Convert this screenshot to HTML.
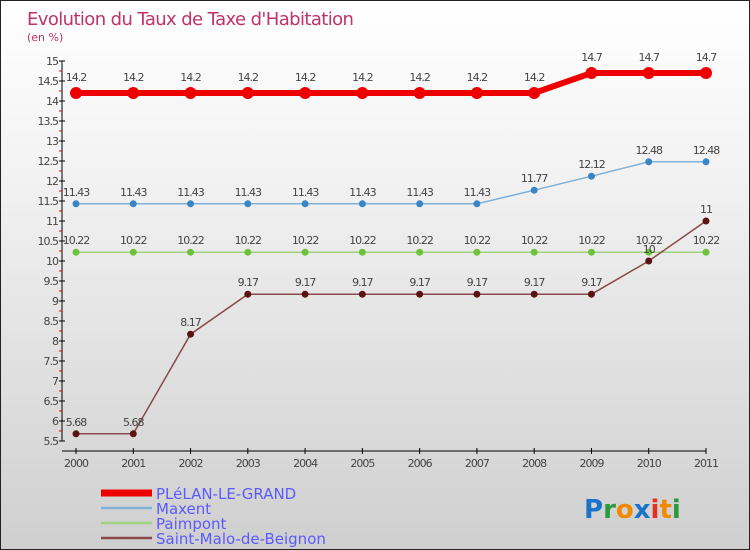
<!DOCTYPE html>
<html><head><meta charset="utf-8"><style>
body{margin:0;}
#c{width:750px;height:550px;position:relative;box-sizing:border-box;border:1px solid #222;background:linear-gradient(#fff,#f3f3f3 30%,#cfcfcf);font-family:"DejaVu Sans","Liberation Sans",sans-serif;overflow:hidden}
</style></head><body>
<div id="c">
<svg id="s" width="750" height="550" style="position:absolute;left:0;top:0">
<text x="26" y="24" font-size="18" fill="#c0326a" font-family="DejaVu Sans, sans-serif" letter-spacing="-0.6">Evolution du Taux de Taxe d'Habitation</text>
<text x="26" y="40" font-size="11" fill="#c0326a">(en %)</text>
<g id="axes"></g><g id="series"></g><g id="legend"></g>
<text x="583" y="517" font-size="26" font-weight="bold" font-family="DejaVu Sans, sans-serif"><tspan fill="#1a73c9">P</tspan><tspan fill="#2a9a3a">r</tspan><tspan fill="#f08a00">o</tspan><tspan fill="#1a73c9">x</tspan><tspan fill="#e53020">i</tspan><tspan fill="#f08a00">t</tspan><tspan fill="#2a9a3a">i</tspan></text>
</svg>
</div>
<script>
const years=[2000,2001,2002,2003,2004,2005,2006,2007,2008,2009,2010,2011];
const plelan=[14.2,14.2,14.2,14.2,14.2,14.2,14.2,14.2,14.2,14.7,14.7,14.7];
const maxent=[11.43,11.43,11.43,11.43,11.43,11.43,11.43,11.43,11.77,12.12,12.48,12.48];
const paimpont=[10.22,10.22,10.22,10.22,10.22,10.22,10.22,10.22,10.22,10.22,10.22,10.22];
const saintmalo=[5.68,5.68,8.17,9.17,9.17,9.17,9.17,9.17,9.17,9.17,10,11];
const yTicks=[5.5,6,6.5,7,7.5,8,8.5,9,9.5,10,10.5,11,11.5,12,12.5,13,13.5,14,14.5,15];
const NS="http://www.w3.org/2000/svg";
function X(i){return 75+i*(705-75)/(years.length-1);}
function Y(v){return 440-(v-5.5)*40;}
function mk(t,a,p){const e=document.createElementNS(NS,t);for(const k in a)e.setAttribute(k,a[k]);p.appendChild(e);return e;}
const ax=document.getElementById('axes');
let e=mk('line',{x1:61,y1:Y(15),x2:61,y2:Y(5.5),stroke:'#000'},ax);


e=mk('line',{x1:61,y1:450,x2:705,y2:450,stroke:'#000'},ax);


yTicks.forEach(v=>{
  mk('line',{x1:58,y1:Y(v),x2:64,y2:Y(v),stroke:'#000'},ax);
  if(v<15)mk('line',{x1:58,y1:Y(v+0.25),x2:61,y2:Y(v+0.25),stroke:'#e00'},ax);
  const t=mk('text',{x:57,y:Y(v)+4,'font-size':11,'text-anchor':'end',fill:'#444','letter-spacing':'-1'},ax);
  t.textContent=String(v);
  
  
});
years.forEach((y,i)=>{
  mk('line',{x1:X(i),y1:447,x2:X(i),y2:453,stroke:'#000'},ax);
  const t=mk('text',{x:X(i),y:466,'font-size':11,'text-anchor':'middle',fill:'#444','letter-spacing':'-1'},ax);
  t.textContent=y;
  
  
});
const sg=document.getElementById('series');
const series=[
 {n:'plelan',d:plelan,c:'#e00',w:6,r:6,pc:'#e00',lab:'PLéLAN-LE-GRAND'},
 {n:'maxent',d:maxent,c:'#7fb0d8',w:1.5,r:3.5,pc:'#3a85c6',lab:'Maxent'},
 {n:'paimpont',d:paimpont,c:'#9fd27f',w:1.5,r:3.5,pc:'#6cc23a',lab:'Paimpont'},
 {n:'saint-malo',d:saintmalo,c:'#8a4a4a',w:1.5,r:3.5,pc:'#5a1212',lab:'Saint-Malo-de-Beignon'}];
series.forEach(s=>{
  const g=mk('g',{},sg);
  
  
  const p=mk('polyline',{points:s.d.map((v,i)=>X(i)+','+Y(v)).join(' '),fill:'none',stroke:s.c,'stroke-width':s.w},g);
  
  
  s.d.forEach((v,i)=>{
    const c=mk('circle',{cx:X(i),cy:Y(v),r:s.r,fill:s.pc},g);
    
    
    const t=mk('text',{x:X(i),y:Y(v)-(s.r>4?12:8),'font-size':11,'text-anchor':'middle',fill:'#444','letter-spacing':'-1'},g);
    t.textContent=String(v);
    
    
  });
});
const lg=document.getElementById('legend');
series.forEach((s,k)=>{
  const y=492+k*15;
  const l=mk('line',{x1:100,y1:y,x2:151,y2:y,stroke:s.c,'stroke-width':s.w+1},lg);
  
  
  const t=mk('text',{x:155,y:y+6,'font-size':15,fill:'#5a5aff','letter-spacing':'0'},lg);
  t.textContent=s.lab;
  
  
});
</script>
</body></html>
